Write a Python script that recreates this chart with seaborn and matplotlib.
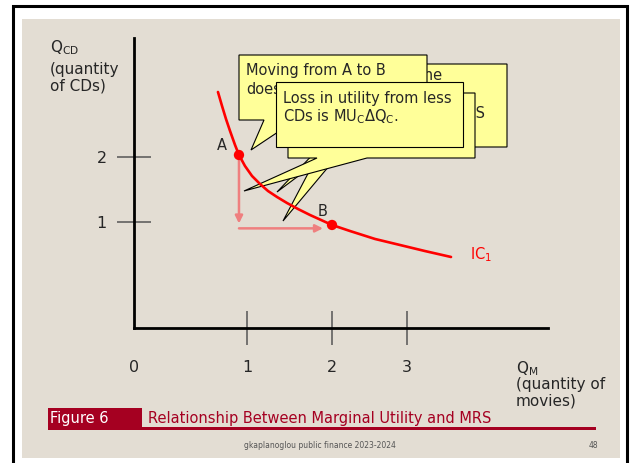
import numpy as np
import pandas as pd
import seaborn as sns
import matplotlib.pyplot as plt
import matplotlib.patches as mpatches

# ---------------- data ----------------
IC_Q_MOVIES = [0.743, 0.779, 0.814, 0.850, 0.894, 0.929, 0.982, 1.059, 1.153, 1.247, 1.353,
               1.471, 1.600, 1.741, 1.871, 2.000, 2.240, 2.573, 2.907, 3.240, 3.587]
IC_Q_CDS = [3.000, 2.785, 2.585, 2.400, 2.185, 2.031, 1.862, 1.708, 1.585, 1.477, 1.385,
            1.292, 1.200, 1.108, 1.031, 0.972, 0.915, 0.840, 0.783, 0.726, 0.670]
POINT_LABELS = ["A", "B"]
POINT_Q_MOVIES = [0.929, 2.0]
POINT_Q_CDS = [2.031, 0.972]
ARROW_CORNER_Q_CDS = 0.94
X_TICKS = [0, 1, 2, 3]
X_TICK_LABELS = ["0", "1", "2", "3"]
Y_TICKS = [1, 2]
Y_TICK_LABELS = ["1", "2"]
CURVE_LABEL = "IC$_1$"

# ---------------- layout ----------------
W, H = 632, 463
BEIGE = "#E3DDD3"
CRIMSON = "#A50021"
TXT = "#262626"
YELLOW = "#FFFF99"

# the slide's axes are drawn schematically (uneven spacing between ticks)
X_KNOTS, X_SCREEN = [0, 1, 2, 3, 5], [0, 113, 198, 273, 423]
Y_KNOTS, Y_SCREEN = [0, 1, 2, 4], [0, 106, 171, 301]


def fx(v):
    return np.interp(v, X_KNOTS, X_SCREEN)


def fx_inv(v):
    return np.interp(v, X_SCREEN, X_KNOTS)


def fy(v):
    return np.interp(v, Y_KNOTS, Y_SCREEN)


def fy_inv(v):
    return np.interp(v, Y_SCREEN, Y_KNOTS)


def F(px, py):
    return (px / W, 1 - py / H)


sns.set_theme(style="white")
plt.rcParams["font.family"] = ["DejaVu Sans"]
plt.rcParams["mathtext.fontset"] = "dejavusans"

fig = plt.figure(figsize=(W / 100, H / 100), dpi=100)
fig.patch.set_facecolor("white")

# slide background and frame
fig.patches.append(mpatches.Rectangle(F(22, 458), (620 - 22) / W, (458 - 19) / H,
                                      transform=fig.transFigure, facecolor=BEIGE,
                                      edgecolor="none", zorder=-10))
fig.patches.append(mpatches.Rectangle(F(13, 480), (627 - 13) / W, (480 - 6) / H,
                                      transform=fig.transFigure, facecolor="none",
                                      edgecolor="black", lw=2.2, zorder=-9))

# axes
ax_l, ax_r, ax_t, ax_b = 134, 548, 38, 328
ax = fig.add_axes([ax_l / W, 1 - ax_b / H, (ax_r - ax_l) / W, (ax_b - ax_t) / H])
ax.set_facecolor("none")
ax.set_xscale("function", functions=(fx, fx_inv))
ax.set_yscale("function", functions=(fy, fy_inv))
ax.set_xlim(0, fx_inv(ax_r - ax_l))
ax.set_ylim(0, fy_inv(ax_b - ax_t))
for s in ["top", "right"]:
    ax.spines[s].set_visible(False)
for s in ["left", "bottom"]:
    ax.spines[s].set_color("black")
    ax.spines[s].set_linewidth(2.0)

# ---------------- callouts (slide annotations) ----------------
def callout(x0, y0, x1, y1, tail=None, z=3):
    pts = [(x0, y0), (x1, y0), (x1, y1)]
    if tail is not None:
        bl, br, tip = tail
        pts += [(br, y1), tip, (bl, y1)]
    pts += [(x0, y1)]
    poly = mpatches.Polygon([F(*p) for p in pts], closed=True, transform=fig.transFigure,
                            facecolor=YELLOW, edgecolor="black", lw=0.8, zorder=z,
                            clip_on=False, joinstyle="miter")
    ax.add_patch(poly)


def tail_only(bl, br, ybase, tip, z):
    poly = mpatches.Polygon([F(bl, ybase), F(*tip), F(br, ybase)], closed=True,
                            transform=fig.transFigure, facecolor=YELLOW,
                            edgecolor="black", lw=0.8, zorder=z, clip_on=False)
    ax.add_patch(poly)


def box_line(px, py, s, z, ha="left"):
    ax.text(*F(px, py), s, transform=fig.transFigure, ha=ha, va="center",
            fontsize=10.5, color=TXT, zorder=z, clip_on=False)


# back callout (mostly hidden behind the others)
callout(320, 64, 507, 147, tail=(322, 345, (283, 221)), z=3)
box_line(443, 76, "the", 3.1, ha="right")
box_line(486, 113, "MRS", 3.1, ha="right")
# "Moving from A to B" callout
callout(239, 55, 427, 120, tail=(264, 296, (251, 150)), z=4)
box_line(246, 70, "Moving from A to B", 4.1)
box_line(246, 89, "does", 4.1)
# tail of the front callout
tail_only(320, 337, 147, (277, 192), z=5)
# middle callout
callout(288, 93, 475, 158, tail=(317, 367, (244, 191)), z=6)
# front callout
callout(276, 82, 463, 147, z=7)
box_line(283, 98, "Loss in utility from less", 7.1)
box_line(283, 117, "CDs is MU$_\\mathregular{C}$\u0394Q$_\\mathregular{C}$.", 7.1)

# ---------------- data marks ----------------
arrow_col = "#EF7F7F"
ax.annotate("", xy=(POINT_Q_MOVIES[0], ARROW_CORNER_Q_CDS), xytext=(POINT_Q_MOVIES[0], POINT_Q_CDS[0]),
            arrowprops=dict(arrowstyle="-|>", color=arrow_col, lw=1.8, mutation_scale=11,
                            shrinkA=0, shrinkB=3.5), zorder=9)
ax.annotate("", xy=(POINT_Q_MOVIES[1], ARROW_CORNER_Q_CDS), xytext=(POINT_Q_MOVIES[0], ARROW_CORNER_Q_CDS),
            arrowprops=dict(arrowstyle="-|>", color=arrow_col, lw=1.8, mutation_scale=11,
                            shrinkA=0, shrinkB=6.5), zorder=9)

ic = pd.DataFrame({"q_movies": IC_Q_MOVIES, "q_cds": IC_Q_CDS})
sns.lineplot(data=ic, x="q_movies", y="q_cds", sort=False, estimator=None,
             color="#FF0000", linewidth=1.9, ax=ax, zorder=10)
pts = pd.DataFrame({"q_movies": POINT_Q_MOVIES, "q_cds": POINT_Q_CDS, "label": POINT_LABELS})
sns.scatterplot(data=pts, x="q_movies", y="q_cds", color="#FF0000", s=55,
                edgecolor="none", ax=ax, zorder=11)

label_offsets = {"A": (-12, 7), "B": (-7, 10)}
for lab, xq, yq in zip(POINT_LABELS, POINT_Q_MOVIES, POINT_Q_CDS):
    ax.annotate(lab, (xq, yq), textcoords="offset points", xytext=label_offsets[lab],
                ha="center", va="center", fontsize=10.5, color=TXT, zorder=12)

ax.annotate(CURVE_LABEL, (IC_Q_MOVIES[-1], IC_Q_CDS[-1]), textcoords="offset points",
            xytext=(14, 2), ha="left", va="center", fontsize=10.5, color="#FF0000")

# ticks (after seaborn, which resets labels)
ax.set_xlabel("")
ax.set_ylabel("")
ax.set_xticks(X_TICKS)
ax.set_xticklabels(X_TICK_LABELS)
ax.set_yticks(Y_TICKS)
ax.set_yticklabels(Y_TICK_LABELS)
ax.xaxis.set_minor_locator(plt.NullLocator())
ax.yaxis.set_minor_locator(plt.NullLocator())
ax.tick_params(axis="both", which="major", direction="inout", length=24.5, width=1.1,
               color="#555555", labelsize=11.5, labelcolor=TXT, bottom=True, left=True)
ax.tick_params(axis="x", pad=10.5)
ax.tick_params(axis="y", pad=7.5)
ax.xaxis.get_major_ticks()[0].tick1line.set_visible(False)

# ---------------- axis titles ----------------
fig.text(*F(50, 48), "Q$_\\mathregular{CD}$", ha="left", va="center", fontsize=11, color=TXT)
fig.text(*F(50, 62), "(quantity\nof CDs)", ha="left", va="top", fontsize=11, color=TXT,
         linespacing=1.1)
fig.text(*F(516, 369), "Q$_\\mathregular{M}$", ha="left", va="center", fontsize=11, color=TXT)
fig.text(*F(516, 377), "(quantity of\nmovies)", ha="left", va="top", fontsize=11, color=TXT,
         linespacing=1.1)

# ---------------- caption & footer ----------------
fig.patches.append(mpatches.Rectangle(F(48, 430), (142 - 48) / W, (430 - 408) / H,
                                      transform=fig.transFigure, facecolor=CRIMSON,
                                      edgecolor="none", zorder=1))
fig.patches.append(mpatches.Rectangle(F(142, 430), (596 - 142) / W, 3.5 / H,
                                      transform=fig.transFigure, facecolor=CRIMSON,
                                      edgecolor="none", zorder=1))
fig.text(*F(50, 418), "Figure 6", ha="left", va="center", fontsize=10.5, color="white")
fig.text(*F(148, 418), "Relationship Between Marginal Utility and MRS", ha="left",
         va="center", fontsize=10.5, color=CRIMSON)
fig.text(*F(320, 446), "gkaplanoglou public finance 2023-2024", ha="center", va="center",
         fontsize=5.5, color="#555555")
fig.text(*F(593, 446), "48", ha="center", va="center", fontsize=5.5, color="#555555")

fig.savefig("out.png", dpi=100)
